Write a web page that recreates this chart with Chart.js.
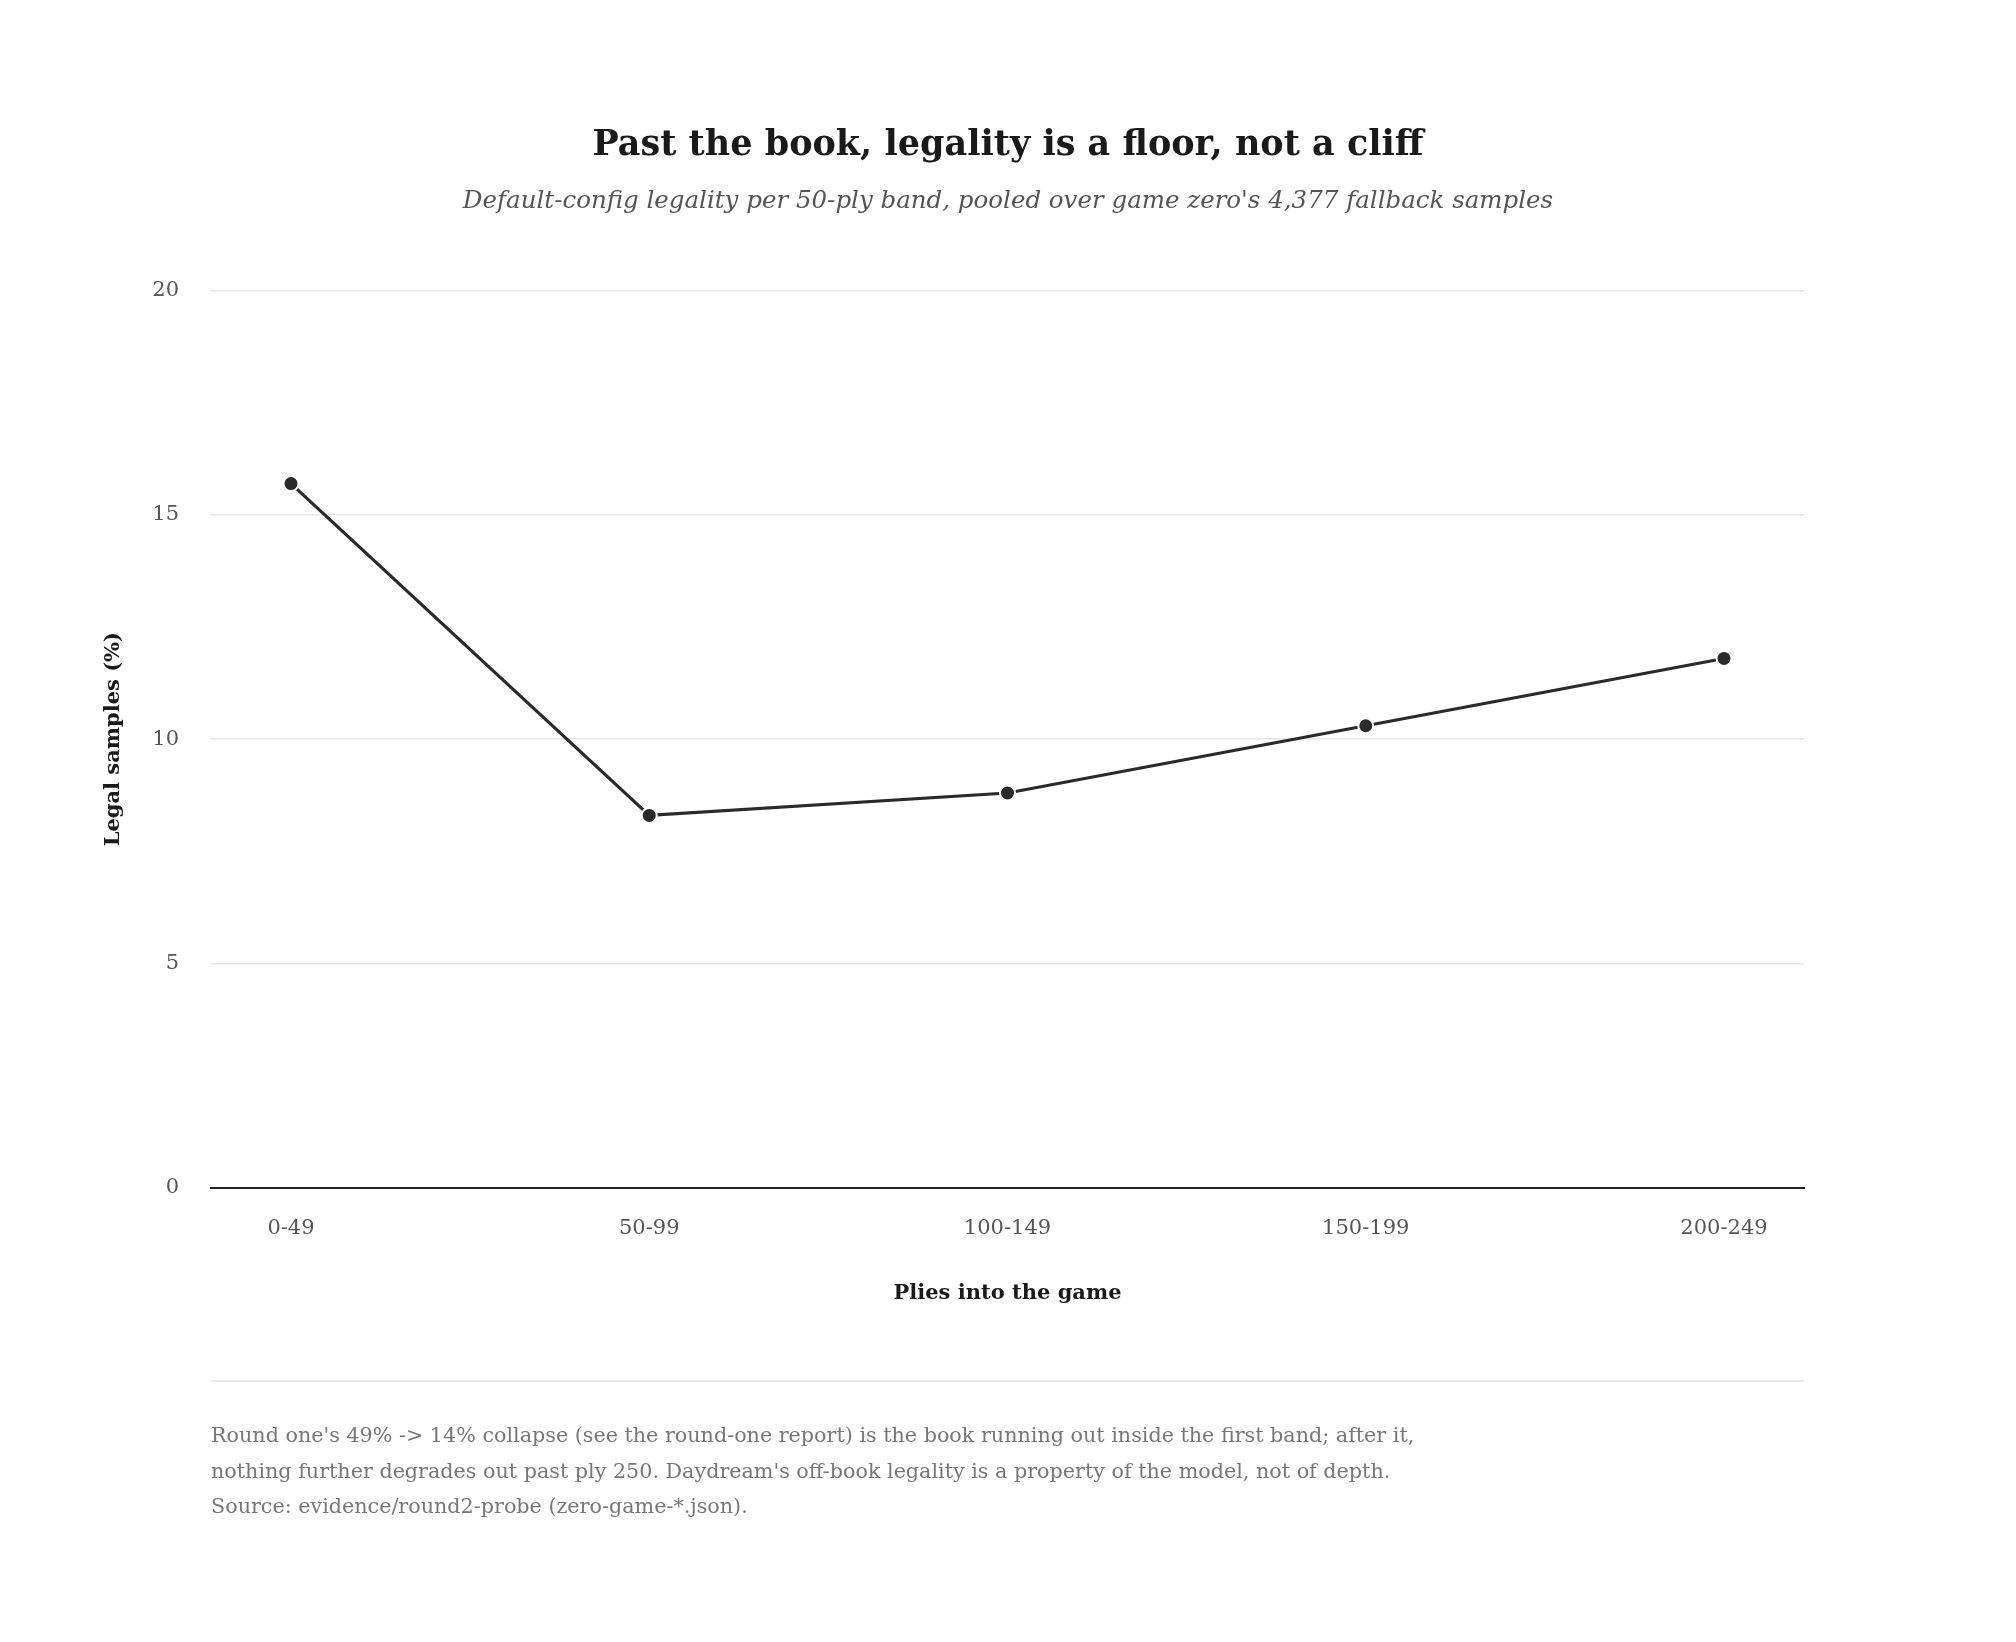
<!DOCTYPE html>
<html>
<head>
<meta charset="utf-8">
<script src="https://cdn.jsdelivr.net/npm/chart.js@4.4.1/dist/chart.umd.min.js"></script>
<style>
    html, body { margin: 0; padding: 0; background: #ffffff; }
    #wrap { position: absolute; left: 0; top: 0; width: 2016px; height: 1642px; }
    #note {
        position: absolute;
        left: 211px;
        top: 1380px;
        width: 1593px;
        border-top: 2px solid #e8e8e8;
        padding-top: 36px;
        font-family: "DejaVu Serif", serif;
        font-size: 20.7px;
        line-height: 35.5px;
        color: #777777;
    }
</style>
</head>
<body>
<div id="wrap"><canvas id="legalityChart"></canvas></div>
<div id="note">
    Round one's 49% -&gt; 14% collapse (see the round-one report) is the book running out inside the first band; after it,<br>
    nothing further degrades out past ply 250. Daydream's off-book legality is a property of the model, not of depth.<br>
    Source: evidence/round2-probe (zero-game-*.json).
</div>
<script>
// plies-into-the-game bands and the legal share per band (%)
var plyBands = ['0-49', '50-99', '100-149', '150-199', '200-249'];
var legalPct = [15.7, 8.3, 8.8, 10.3, 11.8];
var yTicks = [0, 5, 10, 15, 20];

var serif = '"DejaVu Serif", serif';
var ink = '#2a2a2a';

const legalityChart = document.getElementById('legalityChart');
new Chart(legalityChart, {
    type: 'line',
    data: {
        datasets: [{
            label: 'Legal samples (%)',
            data: legalPct.map(function (v, i) { return { x: i, y: v }; }),
            borderColor: ink,
            borderWidth: 3.2,
            backgroundColor: ink,
            pointBackgroundColor: ink,
            pointBorderColor: '#ffffff',
            pointBorderWidth: 2,
            pointRadius: 7.5,
            tension: 0,
            fill: false
        }]
    },
    options: {
        responsive: true,
        maintainAspectRatio: false,
        animation: false,
        layout: {
            padding: { left: 0, right: 0, top: 0, bottom: 314.3 }
        },
        plugins: {
            legend: { display: false },
            tooltip: { enabled: false },
            title: {
                display: true,
                text: 'Past the book, legality is a floor, not a cliff',
                color: '#1a1a1a',
                font: { family: serif, size: 35, weight: 'bold', lineHeight: 1.2 },
                padding: { top: 125, bottom: 0 }
            },
            subtitle: {
                display: true,
                text: "Default-config legality per 50-ply band, pooled over game zero's 4,377 fallback samples",
                color: '#555555',
                font: { family: serif, size: 24.5, style: 'italic', lineHeight: 1.2 },
                padding: { top: 20.3, bottom: 74 }
            }
        },
        scales: {
            x: {
                type: 'linear',
                min: -0.2233,
                max: 4.2233,
                afterBuildTicks: function (axis) {
                    axis.ticks = plyBands.map(function (b, i) { return { value: i }; });
                },
                afterFit: function (axis) { axis.height = 140; },
                grid: { display: false, drawTicks: false },
                border: { display: true, color: '#222222', width: 2 },
                ticks: {
                    autoSkip: false,
                    maxRotation: 0,
                    padding: 28,
                    color: '#555555',
                    font: { family: serif, size: 21 },
                    callback: function (value) { return plyBands[value]; }
                },
                title: {
                    display: true,
                    text: 'Plies into the game',
                    color: '#1a1a1a',
                    font: { family: serif, size: 21, weight: 'bold', lineHeight: 1.2 },
                    padding: { top: 0, bottom: 21.5 }
                }
            },
            y: {
                min: 0,
                max: 20,
                afterBuildTicks: function (axis) {
                    axis.ticks = yTicks.map(function (t) { return { value: t }; });
                },
                afterFit: function (axis) { axis.width = 211; },
                grid: {
                    drawTicks: false,
                    lineWidth: 1.5,
                    color: function (ctx) { return ctx.tick && ctx.tick.value === 0 ? 'rgba(0,0,0,0)' : '#e6e6e6'; }
                },
                border: { display: false },
                ticks: {
                    padding: 32,
                    color: '#555555',
                    font: { family: serif, size: 21 }
                },
                title: {
                    display: true,
                    text: 'Legal samples (%)',
                    color: '#1a1a1a',
                    font: { family: serif, size: 21, weight: 'bold', lineHeight: 1.2 },
                    padding: { top: 101, bottom: 0 }
                }
            },
            // empty right-hand axis that only reserves the right margin
            yRight: {
                position: 'right',
                afterFit: function (axis) { axis.width = 212; },
                grid: { display: false, drawTicks: false },
                border: { display: false },
                ticks: { display: false }
            }
        }
    }
});
</script>
</body>
</html>
